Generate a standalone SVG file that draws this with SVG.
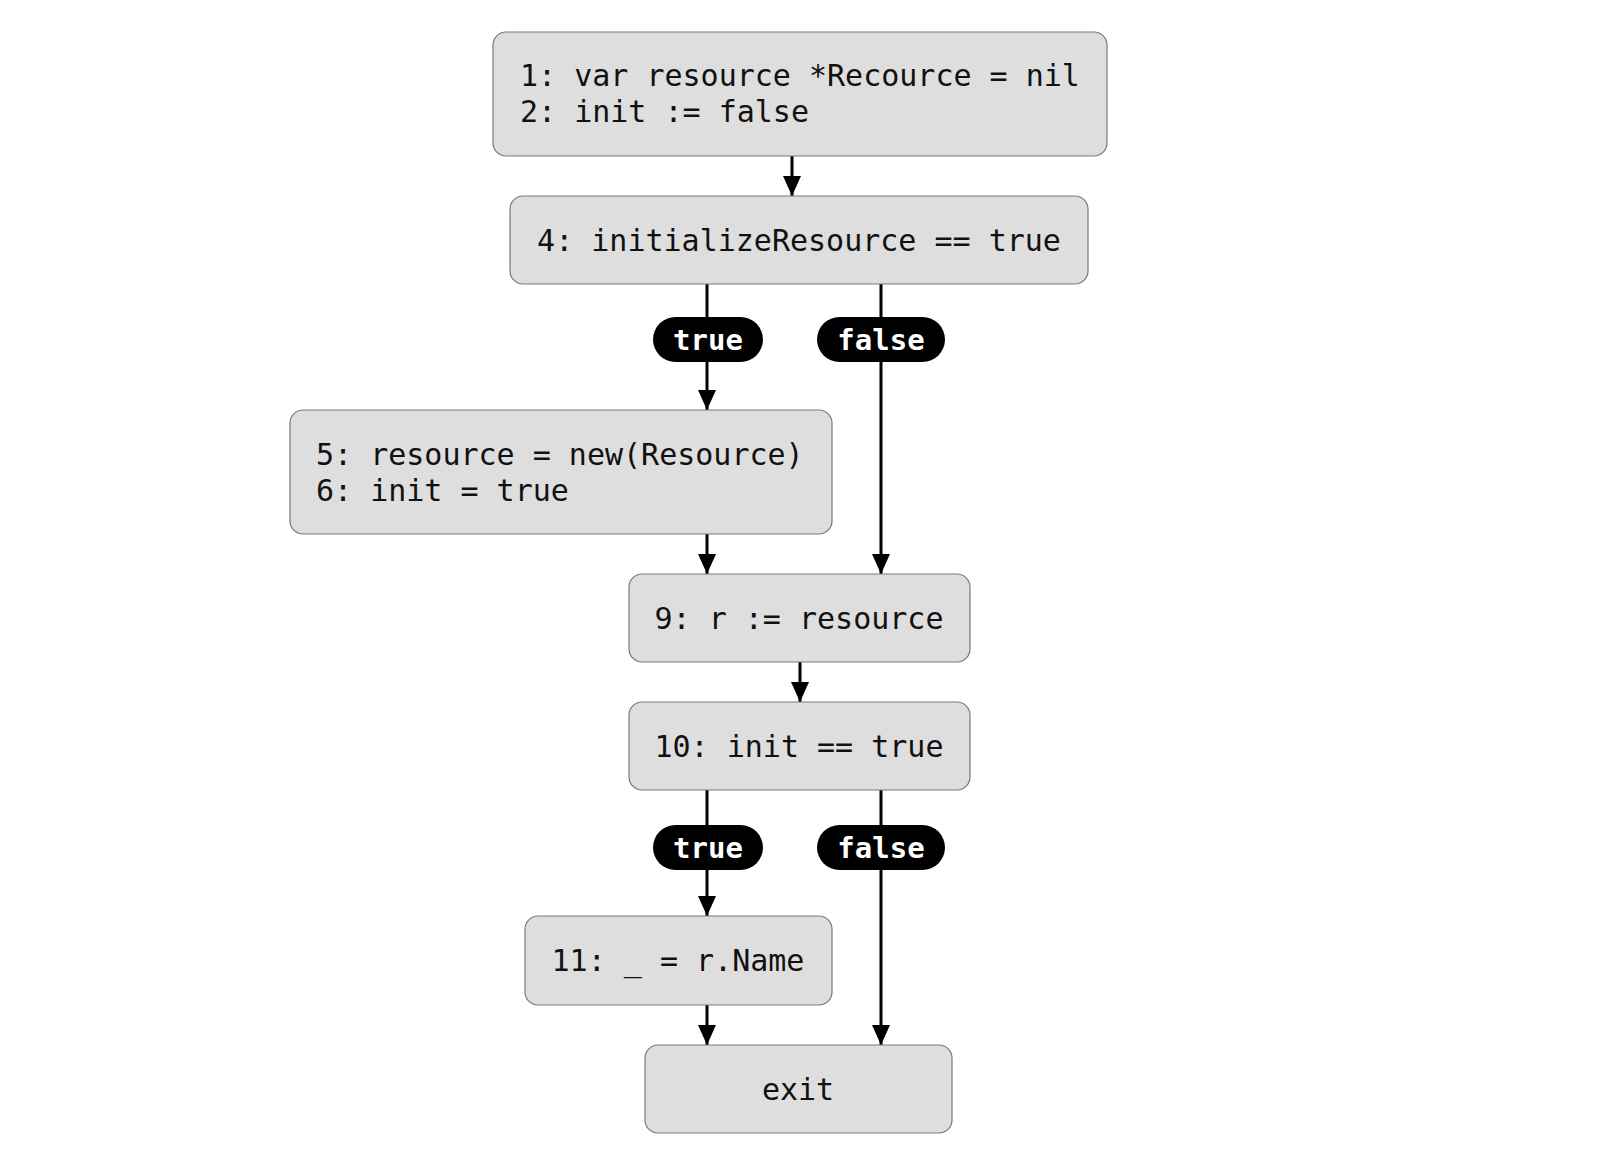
<svg xmlns="http://www.w3.org/2000/svg" width="1600" height="1165" viewBox="0 0 1600 1165">
<defs>
<marker id="ah" viewBox="0 0 20 18" refX="20" refY="9" markerWidth="20" markerHeight="18" markerUnits="userSpaceOnUse" orient="auto">
<path d="M0,0 L20,9 L0,18 Z" fill="#000"/>
</marker>
<style>
.node rect{fill:#dedede;stroke:#7a7a7a;stroke-width:1.2}
.t{font-family:"DejaVu Sans Mono","Liberation Mono",monospace;font-size:30px;fill:#111}
.c{text-anchor:middle}
.edge{stroke:#000;stroke-width:3;fill:none}
.arr{marker-end:url(#ah)}
.pill rect{fill:#000}
.pill text{font-family:"DejaVu Sans Mono","Liberation Mono",monospace;font-size:29px;font-weight:bold;fill:#fff;text-anchor:middle}
</style>
</defs>
<rect width="1600" height="1165" fill="#fff"/>
<g id="connectors">
<line class="edge arr" x1="792" y1="156" x2="792" y2="196"/>
<line class="edge arr" x1="707" y1="284" x2="707" y2="410"/>
<line class="edge arr" x1="881" y1="284" x2="881" y2="574"/>
<line class="edge arr" x1="707" y1="534" x2="707" y2="574"/>
<line class="edge arr" x1="800" y1="662" x2="800" y2="702"/>
<line class="edge arr" x1="707" y1="790" x2="707" y2="916"/>
<line class="edge arr" x1="881" y1="790" x2="881" y2="1045"/>
<line class="edge arr" x1="707" y1="1005" x2="707" y2="1045"/>
<g class="pill" id="lbl-true-1"><rect x="653" y="317" width="110" height="45" rx="22.5"/><text x="708" y="350">true</text></g>
<g class="pill" id="lbl-false-1"><rect x="817" y="317" width="128" height="45" rx="22.5"/><text x="881" y="350">false</text></g>
<g class="pill" id="lbl-true-2"><rect x="653" y="825" width="110" height="45" rx="22.5"/><text x="708" y="858">true</text></g>
<g class="pill" id="lbl-false-2"><rect x="817" y="825" width="128" height="45" rx="22.5"/><text x="881" y="858">false</text></g>
</g>
<g id="n1" class="node"><rect x="493" y="32" width="614" height="124" rx="13"/>
<text class="t" x="520" y="86">1: var resource *Recource = nil</text>
<text class="t" x="520" y="122">2: init := false</text></g>
<g id="n4" class="node"><rect x="510" y="196" width="578" height="88" rx="13"/>
<text class="t c" x="799" y="251">4: initializeResource == true</text></g>
<g id="n5" class="node"><rect x="290" y="410" width="542" height="124" rx="13"/>
<text class="t" x="316" y="465">5: resource = new(Resource)</text>
<text class="t" x="316" y="501">6: init = true</text></g>
<g id="n9" class="node"><rect x="629" y="574" width="341" height="88" rx="13"/>
<text class="t c" x="799" y="629">9: r := resource</text></g>
<g id="n10" class="node"><rect x="629" y="702" width="341" height="88" rx="13"/>
<text class="t c" x="799" y="757">10: init == true</text></g>
<g id="n11" class="node"><rect x="525" y="916" width="307" height="89" rx="13"/>
<text class="t c" x="678" y="971">11: _ = r.Name</text></g>
<g id="exit" class="node"><rect x="645" y="1045" width="307" height="88" rx="13"/>
<text class="t c" x="798" y="1100">exit</text></g>
</svg>
